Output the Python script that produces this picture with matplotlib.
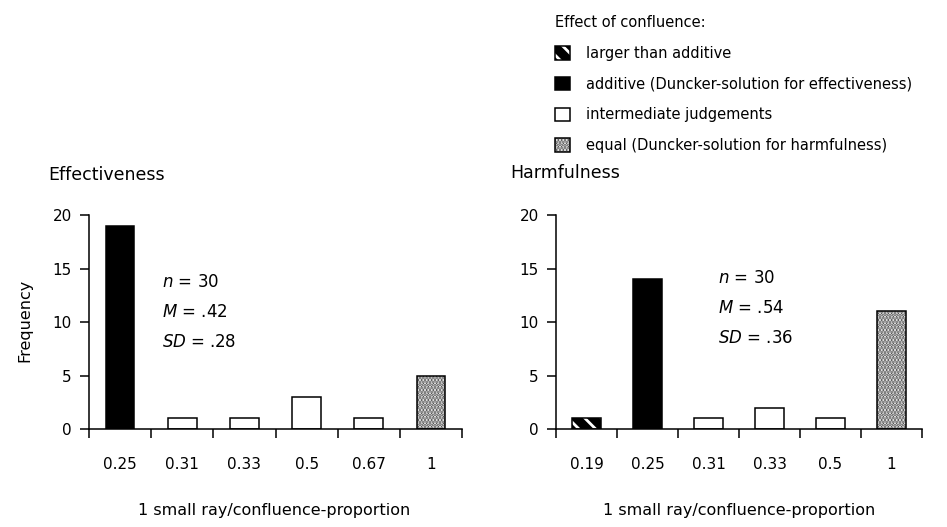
import matplotlib
matplotlib.use("Agg")
import matplotlib.pyplot as plt
from matplotlib.patches import Patch

plt.rcParams['font.family'] = ['DejaVu Sans']
plt.rcParams['hatch.linewidth'] = 2.0

# Daten
eff_labels = ['0.25', '0.31', '0.33', '0.5', '0.67', '1']
eff_freq = [19, 1, 1, 3, 1, 5]
eff_kind = ['additive', 'intermediate', 'intermediate', 'intermediate', 'intermediate', 'equal']

harm_labels = ['0.19', '0.25', '0.31', '0.33', '0.5', '1']
harm_freq = [1, 14, 1, 2, 1, 11]
harm_kind = ['larger', 'additive', 'intermediate', 'intermediate', 'intermediate', 'equal']

legend_labels = ['larger than additive',
                 'additive (Duncker-solution for effectiveness)',
                 'intermediate judgements',
                 'equal (Duncker-solution for harmfulness)']

stats_eff = ['$\\it{n}$ = 30', '$\\it{M}$ = .42', '$\\it{SD}$ = .28']
stats_harm = ['$\\it{n}$ = 30', '$\\it{M}$ = .54', '$\\it{SD}$ = .36']

lw = 1.1


def style_of(kind):
    if kind == 'larger':
        return dict(facecolor='black', edgecolor='white', hatch='\\\\', linewidth=0)
    if kind == 'additive':
        return dict(facecolor='black', edgecolor='black', linewidth=0)
    if kind == 'equal':
        return dict(facecolor='white', edgecolor='#555555', hatch='.....', linewidth=0)
    return dict(facecolor='white', edgecolor='white', linewidth=0)


def draw_panel(ax, labels, freq, kind):
    x = list(range(len(labels)))
    for xi, f, k in zip(x, freq, kind):
        ax.bar(xi, f, width=0.46, **style_of(k), zorder=2)
        ax.bar(xi, f, width=0.46, fill=False, edgecolor='black', linewidth=lw, zorder=3)
    ax.set_xlim(-0.5, len(labels) - 0.5)
    ax.set_ylim(0, 20.3)
    ax.set_yticks([0, 5, 10, 15, 20])
    ax.set_xticks(x)
    ax.set_xticklabels(labels)
    ax.set_xticks([i - 0.5 for i in range(len(labels) + 1)], minor=True)
    ax.tick_params(axis='x', which='major', length=0, pad=20, labelsize=11)
    ax.tick_params(axis='x', which='minor', length=6.5, width=lw, direction='out')
    ax.tick_params(axis='y', length=6.5, width=lw, pad=6, labelsize=11)
    for s in ['top', 'right']:
        ax.spines[s].set_visible(False)
    ax.spines['left'].set_bounds(0, 20)
    ax.spines['left'].set_linewidth(lw)
    ax.spines['bottom'].set_linewidth(lw)
    ax.spines['left'].set_zorder(4)
    ax.spines['bottom'].set_zorder(4)


fig = plt.figure(figsize=(9.47, 5.27), dpi=100)
ax1 = fig.add_axes([89 / 947, 1 - 429 / 527, (462 - 89) / 947, (429 - 212) / 527])
ax2 = fig.add_axes([556 / 947, 1 - 429 / 527, (922 - 556) / 947, (429 - 212) / 527])

draw_panel(ax1, eff_labels, eff_freq, eff_kind)
draw_panel(ax2, harm_labels, harm_freq, harm_kind)

fig.text(48 / 947, 1 - 175 / 527, 'Effectiveness', fontsize=12.5, va='center', ha='left')
fig.text(510 / 947, 1 - 173 / 527, 'Harmfulness', fontsize=12.5, va='center', ha='left')
fig.text(25 / 947, 1 - 320 / 527, 'Frequency', fontsize=11.5, rotation=90, va='center', ha='center')
fig.text(274 / 947, 1 - 510 / 527, '1 small ray/confluence-proportion', fontsize=11.5, va='center', ha='center')
fig.text(739 / 947, 1 - 510 / 527, '1 small ray/confluence-proportion', fontsize=11.5, va='center', ha='center')

for i, s in enumerate(stats_eff):
    fig.text(162 / 947, 1 - (282 + 30 * i) / 527, s, fontsize=12, va='center', ha='left')
for i, s in enumerate(stats_harm):
    fig.text(718 / 947, 1 - (278 + 30 * i) / 527, s, fontsize=12, va='center', ha='left')

outline = Patch(facecolor='none', edgecolor='black', linewidth=lw)
handles = [
    (Patch(**style_of('larger')), outline),
    (Patch(**style_of('additive')), outline),
    (Patch(**style_of('intermediate')), outline),
    (Patch(**style_of('equal')), outline),
]
leg = fig.legend(handles, legend_labels, loc='upper left',
                 bbox_to_anchor=(555 / 947, 1 - 15 / 527), frameon=False,
                 title='Effect of confluence:', title_fontsize=10.5, fontsize=10.5,
                 handlelength=1.05, handleheight=1.05, handletextpad=1.1,
                 labelspacing=1.08, borderpad=0, borderaxespad=0, alignment='left')

fig.savefig('out.png', dpi=100)
